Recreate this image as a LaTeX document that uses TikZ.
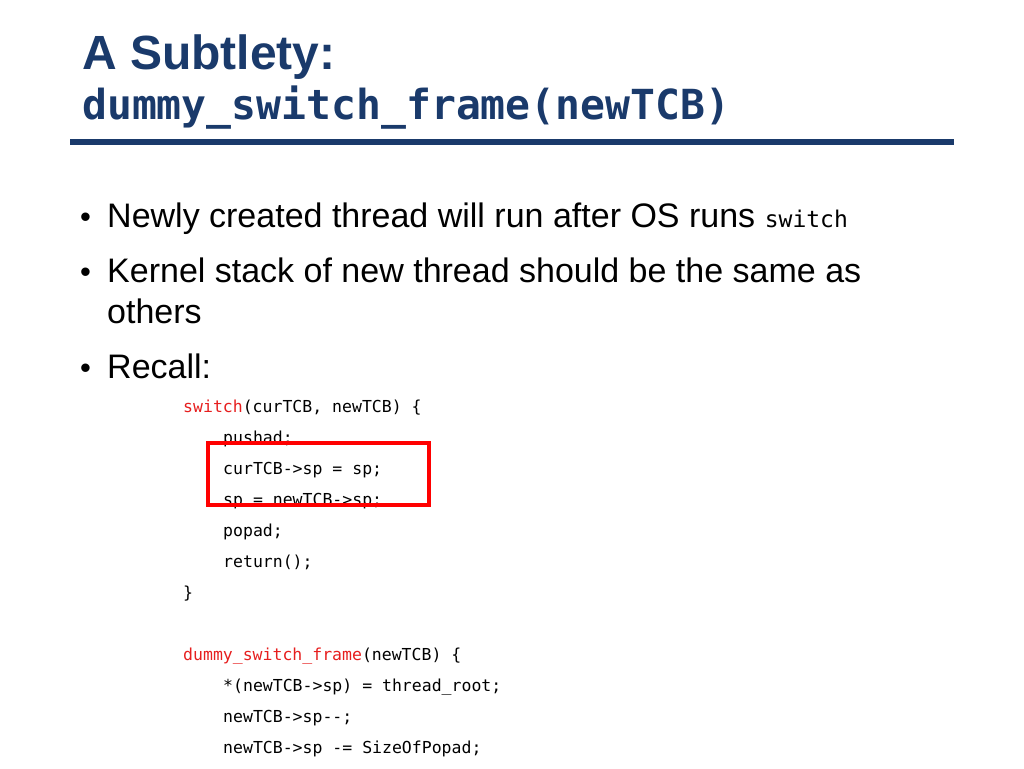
\documentclass[tikz,border=0pt]{standalone}
\usepackage{fontspec}
\setmainfont{Liberation Sans}
\setmonofont{DejaVu Sans Mono}
\definecolor{titleblue}{RGB}{26,58,107}
\definecolor{keyred}{RGB}{230,30,30}
\tikzset{
  txt/.style={anchor=base west, inner sep=0pt},
  code/.style={txt, font=\fontsize{16.5}{18}\ttfamily},
  bullet/.style={txt, font=\fontsize{34}{37}\selectfont},
}
\begin{document}
\begin{tikzpicture}[x=1pt,y=-1pt]
    \useasboundingbox (0,0) rectangle (1024,768);
    % title
    \node[txt, text=titleblue, font=\fontsize{48}{52}\selectfont\bfseries] (ttl) at (82,70) {A Subtlety:};
    \node[txt, text=titleblue, font=\fontsize{41.4}{44}\ttfamily\bfseries] (ttlcode) at (82,119) {dummy\_switch\_frame(newTCB)};
    \fill[titleblue] (70,139) rectangle (954,145);

    % bullets
    \foreach \yy in {227,282,378}
        \node[bullet, font=\fontsize{31}{34}\selectfont] at (80,\yy) {\textbullet};
    \node[bullet] (b1) at (107,227) {Newly created thread will run after OS runs \fontsize{23}{25}\ttfamily switch};
    \node[bullet] (b2) at (107,282) {Kernel stack of new thread should be the same as};
    \node[bullet] (b2b) at (107,323) {others};
    \node[bullet] (b3) at (107,378) {Recall:};

    % code
    \node[code] (c1) at (183,412) {\textcolor{keyred}{switch}(curTCB, newTCB) \{};
    \node[code] (c2) at (223,443) {pushad;};
    \node[code] (c3) at (223,474) {curTCB->sp = sp;};
    \node[code] (c4) at (223,505) {sp = newTCB->sp;};
    \node[code] (c5) at (223,536) {popad;};
    \node[code] (c6) at (223,567) {return();};
    \node[code] (c7) at (183,598) {\}};
    \node[code] (d1) at (183,660) {\textcolor{keyred}{dummy\_switch\_frame}(newTCB) \{};
    \node[code] (d2) at (223,691) {*(newTCB->sp) = thread\_root;};
    \node[code] (d3) at (223,722) {newTCB->sp--;};
    \node[code] (d4) at (223,753) {newTCB->sp -= SizeOfPopad;};

    % highlight
    \draw[red, line width=3.5pt] (208,443) rectangle (429,505);
\end{tikzpicture}
\end{document}
